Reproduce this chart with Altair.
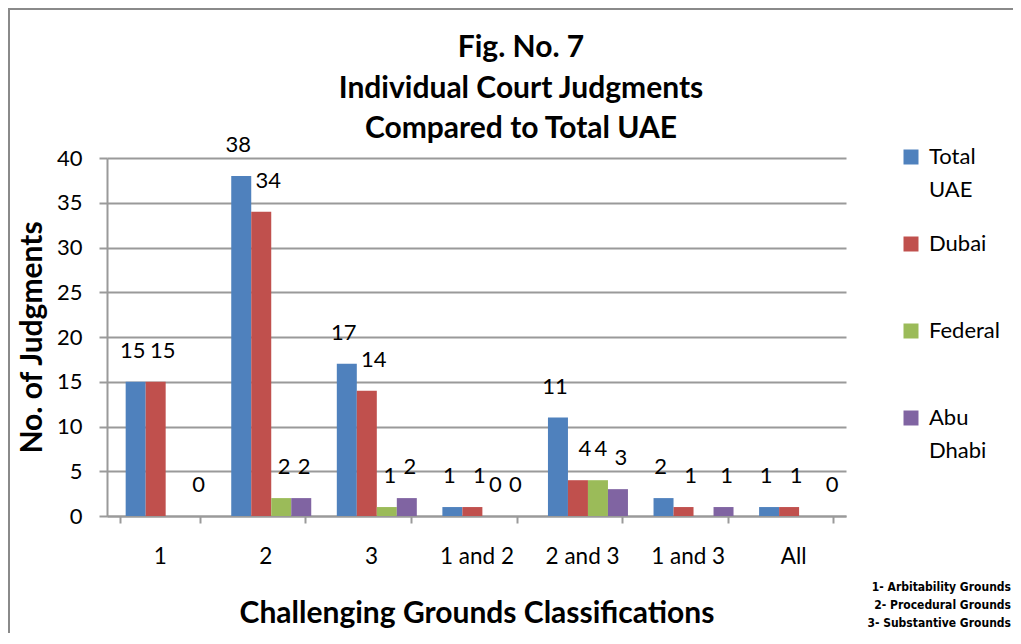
import altair as alt
import pandas as pd

categories = ["1", "2", "3", "1 and 2", "2 and 3", "1 and 3", "All"]
series = ["Total UAE", "Dubai", "Federal", "Abu Dhabi"]
total_uae = [15, 38, 17, 1, 11, 2, 1]
dubai = [15, 34, 14, 1, 4, 1, 1]
federal = [0, 2, 1, 0, 4, 0, 0]
abu_dhabi = [0, 2, 2, 0, 3, 1, 0]
colors = ["#4F81BD", "#C0504D", "#9BBB59", "#8064A2"]
label_dx = [-3, 7, 3, 3]
hidden_labels = [("Federal", "1"), ("Federal", "1 and 3"), ("Federal", "All")]
title_lines = ["Fig. No. 7", "Individual Court Judgments", "Compared to Total UAE"]
notes = ["1- Arbitability Grounds", "2- Procedural Grounds", "3- Substantive Grounds"]
y_ticks = [0, 5, 10, 15, 20, 25, 30, 35, 40]

rows = []
for s, vals in zip(series, [total_uae, dubai, federal, abu_dhabi]):
    for c, v in zip(categories, vals):
        rows.append({"category": c, "series": s, "value": v,
                     "label": "" if (s, c) in hidden_labels else str(v)})
df = pd.DataFrame(rows)

FONT = "Lato"
GRAY = "#9a9a9a"
W, H = 739, 358

x_enc = alt.X(
    "category:N", sort=categories,
    scale=alt.Scale(paddingInner=0.24, paddingOuter=0.12),
    axis=alt.Axis(
        title="Challenging Grounds  Classifications", labelAngle=0,
        tickBand="extent", grid=False, domainColor=GRAY, domainWidth=2,
        tickColor=GRAY, tickWidth=2, tickSize=7, labelFont=FONT,
        labelFontSize=22.5, labelColor="#000", labelPadding=22,
        titleFont=FONT, titleFontSize=30, titleFontWeight="bold",
        titleColor="#000", titlePadding=31,
    ),
)
xo_enc = alt.XOffset("series:N", sort=series, scale=alt.Scale(range=[6, 86]))
y_enc = alt.Y(
    "value:Q", scale=alt.Scale(domain=[0, 40]),
    axis=alt.Axis(
        values=y_ticks, title="No. of Judgments", grid=True,
        gridColor=GRAY, gridWidth=2, domainColor=GRAY, domainWidth=2,
        tickColor=GRAY, tickWidth=2, tickSize=8, labelFont=FONT,
        labelFontSize=22, labelColor="#000", labelPadding=17,
        titleFont=FONT, titleFontSize=30, titleFontWeight="bold",
        titleColor="#000", titlePadding=9,
    ),
)
color_enc = alt.Color(
    "series:N", sort=series,
    scale=alt.Scale(domain=series, range=colors),
    legend=alt.Legend(
        title=None, orient="none", legendX=793, legendY=-12,
        symbolType="square", symbolSize=225, symbolStrokeWidth=0,
        labelFont=FONT, labelFontSize=22, labelColor="#000",
        labelOffset=7, rowPadding=32, gridAlign="all", padding=0,
        labelExpr="split(datum.label, ' ')", labelLimit=200,
    ),
)

bars = alt.Chart(df).mark_bar().encode(
    x=x_enc, xOffset=xo_enc, y=y_enc, color=color_enc
)

label_layers = []
for s, d in zip(series, label_dx):
    label_layers.append(
        alt.Chart(df).transform_filter(alt.datum.series == s).mark_text(
            dy=-31, dx=d, fontSize=22, font=FONT, baseline="middle", color="#000"
        ).encode(
            x=alt.X("category:N", sort=categories),
            xOffset=alt.XOffset("series:N", sort=series),
            y="value:Q",
            text="label:N",
        )
    )

one = pd.DataFrame({"k": [0]})
border = alt.Chart(one).mark_rect(
    fill="transparent", stroke="#8a8a8a", strokeWidth=2
).encode(
    x=alt.value(-98), x2=alt.value(1100), y=alt.value(-149), y2=alt.value(700)
)

title_text = alt.Chart(one).mark_text(
    font=FONT, fontSize=30, fontWeight="bold", color="#000",
    align="center", baseline="middle", lineHeight=40.5,
).encode(
    x=alt.value(414), y=alt.value(-110), text=alt.value(title_lines)
)

note_text = alt.Chart(one).mark_text(
    font="Liberation Sans Narrow, DejaVu Sans Condensed, Liberation Sans",
    fontSize=12, fontWeight="bold",
    color="#000", align="right", baseline="middle", lineHeight=18,
).encode(
    x=alt.value(904), y=alt.value(429), text=alt.value(notes)
)

chart = alt.layer(border, bars, *label_layers, title_text, note_text).properties(
    width=W, height=H,
    autosize=alt.AutoSizeParams(type="none"),
    padding={"left": 99, "top": 150, "right": 167, "bottom": 117},
).configure(
    style={"guide-label": {"lineHeight": 33}}
).configure_view(stroke=None)

chart.save("out.html", embed_options={"renderer": "svg", "actions": False})
